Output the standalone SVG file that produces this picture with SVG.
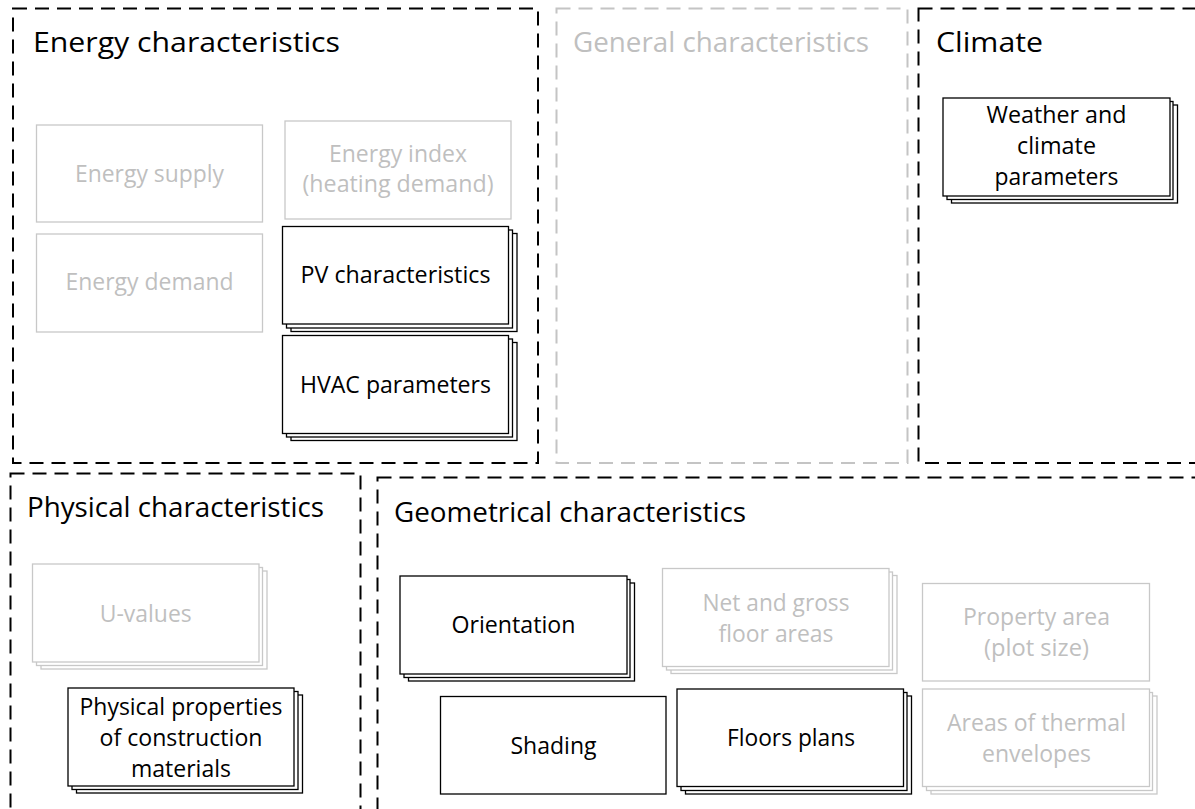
<svg xmlns="http://www.w3.org/2000/svg" width="1195" height="809" viewBox="0 0 1195 809">
  <style>
    .frame { fill: none; stroke: #000; stroke-width: 2; stroke-dasharray: 14 8; }
    .frame.off { stroke: #c4c4c4; }
    .box { fill: #fff; stroke: #000; stroke-width: 1.3; }
    .box.off { stroke: #c8c8c8; }
    text { font-family: "Open Sans", Lato, "Liberation Sans", sans-serif; fill: #000; }
    .title { font-size: 28px; }
    .label { font-size: 23px; text-anchor: middle; }
    .off-text { fill: #bfbfbf; }
  </style>
  <defs>
    <!-- stacked "multi-document" card: two offset sheets behind the front one -->
    <g id="stack-back">
      <rect x="8.5" y="7" width="226" height="98"/>
      <rect x="4" y="3.5" width="226" height="98"/>
    </g>
  </defs>
  <rect width="1195" height="809" fill="#fff"/>

  <!-- Energy characteristics -->
  <g id="energy">
    <rect class="frame" x="13" y="8.5" width="525" height="454.5"/>
    <text class="title" x="33" y="52" textLength="307" lengthAdjust="spacingAndGlyphs">Energy characteristics</text>
    <g id="energy-supply">
      <rect class="box off" x="36.5" y="125" width="226" height="97"/>
      <text class="label off-text" x="149.5" y="182" textLength="149" lengthAdjust="spacingAndGlyphs">Energy supply</text>
    </g>
    <g id="energy-index">
      <rect class="box off" x="285" y="121" width="226" height="98"/>
      <text class="label off-text" x="398" y="161.5" textLength="138" lengthAdjust="spacingAndGlyphs">Energy index</text>
      <text class="label off-text" x="398" y="192" textLength="191" lengthAdjust="spacingAndGlyphs">(heating demand)</text>
    </g>
    <g id="energy-demand">
      <rect class="box off" x="36.5" y="234" width="226" height="98"/>
      <text class="label off-text" x="149.5" y="290" textLength="168" lengthAdjust="spacingAndGlyphs">Energy demand</text>
    </g>
    <g id="pv-characteristics">
      <use href="#stack-back" class="box" x="282.5" y="226.5"/>
      <rect class="box" x="282.5" y="226.5" width="226" height="97.5"/>
      <text class="label" x="395.5" y="283" textLength="190" lengthAdjust="spacingAndGlyphs">PV characteristics</text>
    </g>
    <g id="hvac-parameters">
      <use href="#stack-back" class="box" x="282.5" y="335.5"/>
      <rect class="box" x="282.5" y="335.5" width="226" height="98"/>
      <text class="label" x="395.5" y="393" textLength="191" lengthAdjust="spacingAndGlyphs">HVAC parameters</text>
    </g>
  </g>

  <!-- General characteristics -->
  <g id="general">
    <rect class="frame off" x="556.5" y="8.5" width="351" height="454.5"/>
    <text class="title off-text" x="573" y="52" textLength="296" lengthAdjust="spacingAndGlyphs">General characteristics</text>
  </g>

  <!-- Climate -->
  <g id="climate">
    <rect class="frame" x="918.5" y="8.5" width="300" height="454.5"/>
    <text class="title" x="936" y="52" textLength="107" lengthAdjust="spacingAndGlyphs">Climate</text>
    <g id="weather-climate">
      <use href="#stack-back" class="box" x="943" y="98"/>
      <rect class="box" x="943" y="98" width="227" height="98"/>
      <text class="label" x="1056.5" y="123" textLength="140" lengthAdjust="spacingAndGlyphs">Weather and</text>
      <text class="label" x="1056.5" y="154" textLength="79" lengthAdjust="spacingAndGlyphs">climate</text>
      <text class="label" x="1056.5" y="185" textLength="124" lengthAdjust="spacingAndGlyphs">parameters</text>
    </g>
  </g>

  <!-- Physical characteristics -->
  <g id="physical">
    <rect class="frame" x="10.5" y="473.5" width="350" height="400"/>
    <text class="title" x="27" y="517" textLength="297" lengthAdjust="spacingAndGlyphs">Physical characteristics</text>
    <g id="u-values">
      <use href="#stack-back" class="box off" x="32.5" y="564"/>
      <rect class="box off" x="32.5" y="564" width="226.5" height="98"/>
      <text class="label off-text" x="145.75" y="621.5" textLength="92" lengthAdjust="spacingAndGlyphs">U-values</text>
    </g>
    <g id="construction-materials">
      <use href="#stack-back" class="box" x="68" y="688"/>
      <rect class="box" x="68" y="688" width="226" height="98"/>
      <text class="label" x="181" y="714.5" textLength="203" lengthAdjust="spacingAndGlyphs">Physical properties</text>
      <text class="label" x="181" y="745.5" textLength="163" lengthAdjust="spacingAndGlyphs">of construction</text>
      <text class="label" x="181" y="777" textLength="100" lengthAdjust="spacingAndGlyphs">materials</text>
    </g>
  </g>

  <!-- Geometrical characteristics -->
  <g id="geometrical">
    <rect class="frame" x="377.5" y="477.5" width="900" height="400"/>
    <text class="title" x="394" y="521.5" textLength="352" lengthAdjust="spacingAndGlyphs">Geometrical characteristics</text>
    <g id="orientation">
      <use href="#stack-back" class="box" x="400" y="576"/>
      <rect class="box" x="400" y="576" width="227" height="98"/>
      <text class="label" x="513.5" y="633" textLength="124" lengthAdjust="spacingAndGlyphs">Orientation</text>
    </g>
    <g id="floor-areas">
      <use href="#stack-back" class="box off" x="662.5" y="568.5"/>
      <rect class="box off" x="662.5" y="568.5" width="226.5" height="98"/>
      <text class="label off-text" x="776" y="610.5" textLength="147" lengthAdjust="spacingAndGlyphs">Net and gross</text>
      <text class="label off-text" x="776" y="641.5" textLength="115" lengthAdjust="spacingAndGlyphs">floor areas</text>
    </g>
    <g id="property-area">
      <rect class="box off" x="922.5" y="583.5" width="227" height="97.5"/>
      <text class="label off-text" x="1036.5" y="625" textLength="147" lengthAdjust="spacingAndGlyphs">Property area</text>
      <text class="label off-text" x="1036.5" y="655.5" textLength="105" lengthAdjust="spacingAndGlyphs">(plot size)</text>
    </g>
    <g id="shading">
      <rect class="box" x="440.5" y="696.5" width="225.5" height="97.5"/>
      <text class="label" x="553.5" y="754" textLength="86" lengthAdjust="spacingAndGlyphs">Shading</text>
    </g>
    <g id="floors-plans">
      <use href="#stack-back" class="box" x="677" y="689"/>
      <rect class="box" x="677" y="689" width="226.5" height="97.5"/>
      <text class="label" x="791" y="746" textLength="128" lengthAdjust="spacingAndGlyphs">Floors plans</text>
    </g>
    <g id="thermal-envelopes">
      <use href="#stack-back" class="box off" x="922.5" y="689"/>
      <rect class="box off" x="922.5" y="689" width="227" height="97.5"/>
      <text class="label off-text" x="1036.5" y="730.5" textLength="179" lengthAdjust="spacingAndGlyphs">Areas of thermal</text>
      <text class="label off-text" x="1036.5" y="761.5" textLength="109" lengthAdjust="spacingAndGlyphs">envelopes</text>
    </g>
  </g>
</svg>
